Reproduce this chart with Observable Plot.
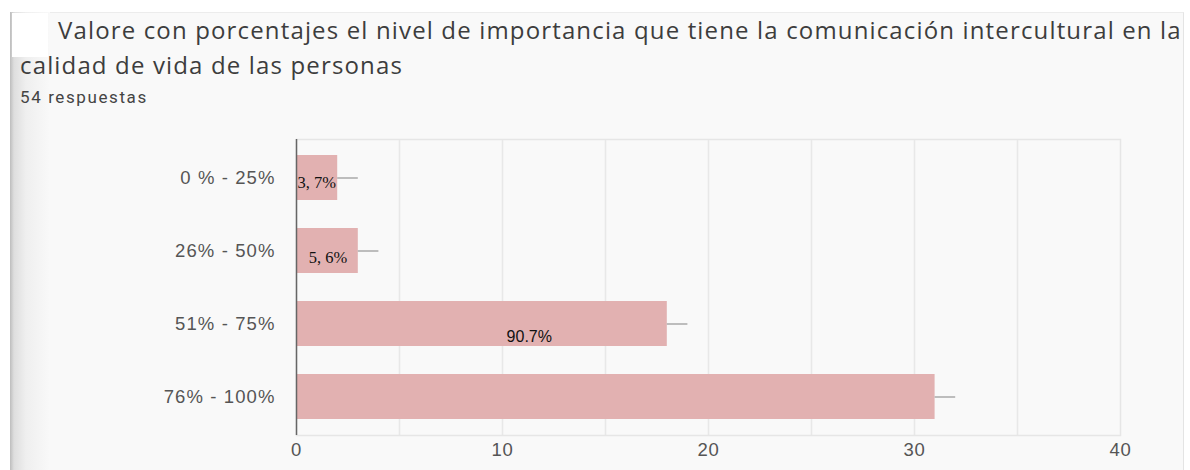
<!DOCTYPE html>
<html>
<head>
<meta charset="utf-8">
<script src="https://cdn.jsdelivr.net/npm/d3@7"></script>
<script src="https://cdn.jsdelivr.net/npm/@observablehq/plot@0.6"></script>
<style>
  html, body { margin: 0; padding: 0; background: #ffffff; }
  #page { position: relative; width: 1190px; height: 470px; overflow: hidden; background: #fff; }
  #card { position: absolute; left: 10px; top: 12px; width: 1173px; height: 470px;
          background: #f9f9f9; border-top: 1px solid #ececec; border-right: 1px solid #e4e4e4; }
  #shadow { position: absolute; left: 10px; top: 12px; width: 40px; height: 460px;
            background: linear-gradient(to right, #bdbdbd 0px, #dedede 4px, #efefef 16px, #f9f9f9 40px); }
  #whitepatch { position: absolute; left: 12px; top: 13px; width: 36px; height: 44px; background: #fff; }
  #t1 { position: absolute; left: 58px; top: 13px; font: 24px "Open Sans", sans-serif; letter-spacing: 1.15px; color: #3d3d3d; white-space: nowrap; }
  #t2 { position: absolute; left: 20px; top: 48px; font: 24px "Open Sans", sans-serif; letter-spacing: 1.15px; color: #3d3d3d; white-space: nowrap; }
  #sub { position: absolute; left: 20px; top: 87px; font: 17px Roboto, sans-serif; letter-spacing: 1.6px; color: #444; white-space: nowrap; }
  #chart { position: absolute; left: 0; top: 120px; }
  #chart g[aria-label="y-axis tick label"] text { letter-spacing: 1.1px; }
  #chart g[aria-label="x-axis tick label"] text { letter-spacing: 0.8px; }
</style>
</head>
<body>
<div id="page">
  <div id="card"></div>
  <div id="shadow"></div>
  <div id="whitepatch"></div>
  <div id="t1">Valore con porcentajes el nivel de importancia que tiene la comunicación intercultural en la</div>
  <div id="t2">calidad de vida de las personas</div>
  <div id="sub">54 respuestas</div>
  <div id="chart"></div>
</div>
<script>
const categories = ["0 % - 25%", "26% - 50%", "51% - 75%", "76% - 100%"];
const counts = [2, 3, 18, 31];
const whiskerEnds = [3, 4, 19, 32];
const labels = ["3, 7%", "5, 6%", "90.7%", ""];
const labelX = [0.05, 0.6, 11.3, 0];
const xTicks = [0, 10, 20, 30, 40];
const gridValues = [5, 10, 15, 20, 25, 30, 35];

const data = categories.map((c, i) => ({
  cat: c, n: counts[i], w: whiskerEnds[i], label: labels[i], lx: labelX[i]
}));

const chart = Plot.plot({
  width: 1190,
  height: 350,
  marginLeft: 296,
  marginRight: 70,
  marginTop: 19,
  marginBottom: 35,
  style: { background: "transparent", fontFamily: "'Liberation Sans', Arial, sans-serif" },
  x: { domain: [0, 40], ticks: xTicks, tickSize: 0, tickPadding: 9, label: null },
  y: { domain: categories, paddingInner: 0.378, paddingOuter: 0.19, tickSize: 0, tickPadding: 23, label: null },
  marks: [
    Plot.ruleX(gridValues, { stroke: "#e8e8e8", strokeWidth: 1.5 }),
    Plot.frame({ stroke: "#e6e6e6", strokeWidth: 1.5 }),
    Plot.barX(data, { x: "n", y: "cat", fill: "#e2b1b1" }),
    Plot.ruleY(data, { y: "cat", x1: "n", x2: "w", stroke: "#a8a8a8", strokeWidth: 1.5 }),
    Plot.ruleX([0], { stroke: "#666", strokeWidth: 1.5 }),
    Plot.text(data.filter((d, i) => i === 0), { x: "lx", y: "cat", text: "label", textAnchor: "start", dy: 5,
      fontFamily: "'Liberation Serif', 'Times New Roman', serif", fontSize: 16.5, fill: "#111" }),
    Plot.text(data.filter((d, i) => i === 1), { x: "lx", y: "cat", text: "label", textAnchor: "start", dy: 7,
      fontFamily: "'Liberation Serif', 'Times New Roman', serif", fontSize: 16.5, fill: "#111" }),
    Plot.text(data.filter((d, i) => i === 2), { x: "lx", y: "cat", text: "label", dy: 13,
      fontFamily: "'Liberation Sans', Arial, sans-serif", fontSize: 16, fill: "#111" }),
    Plot.axisY({ tickSize: 0, tickPadding: 21, fontSize: 18.5, color: "#555", label: null }),
    Plot.axisX({ ticks: xTicks, tickSize: 0, tickPadding: 7, fontSize: 18.5, color: "#555", label: null })
  ]
});
document.getElementById("chart").appendChild(chart);
</script>
</body>
</html>
